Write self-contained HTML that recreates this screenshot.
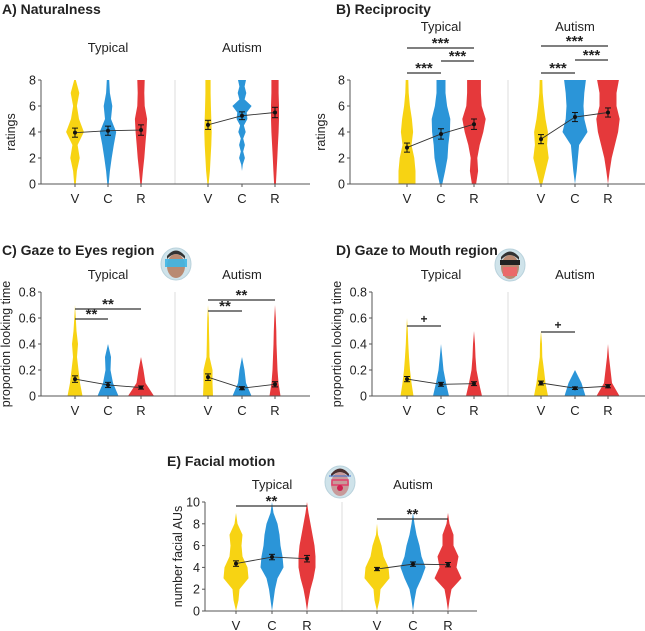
<!DOCTYPE html>
<html><head><meta charset="utf-8"><style>
html,body{margin:0;padding:0;background:#fff;}
svg{display:block;font-family:"Liberation Sans",Arial,sans-serif;}
</style></head><body>
<svg id="fig" width="645" height="631" viewBox="0 0 645 631" xmlns="http://www.w3.org/2000/svg"></svg>
<script>
// ---------- DATA ----------
const conditions = ["V","C","R"];
const groups = ["Typical","Autism"];
// density profiles (relative widths) evenly spanning each axis range
const densA_T = [[0.05,0.2,0.6,0.3,1.2,0.5,0.2,0.55,0.05],[0.03,0.2,0.45,0.75,1.1,0.35,0.55,0.2,0.1],[0.03,0.2,0.4,0.55,0.7,0.8,0.45,0.4,0.45]];
const densA_A = [[0.02,0.2,0.3,0.4,0.45,0.4,0.35,0.3,0.3],[0,0,0,0.05,0.35,0.1,0.35,0.1,0.45,0.2,0.7,0.6,1.3,0.3,0.55,0.3,0.5],[0.05,0.15,0.25,0.35,0.45,0.5,0.5,0.45,0.45]];
const densB_T = [[1.0,1.0,0.85,0.5,0.7,0.55,0.3,0.15,0.1],[0.1,0.45,0.75,0.85,1.05,1.1,0.7,0.5,0.5],[0.2,0.45,0.35,0.65,1.1,1.4,0.9,0.8,0.8]];
const densB_A = [[0.1,0.5,0.9,0.7,0.8,0.5,0.3,0.15,0.1],[0,0.15,0.3,0.45,1.5,1.1,1.0,1.1,1.3],[0,0.15,0.4,0.8,1.2,1.4,1.0,1.0,1.3]];
const densC_T = [[1.4,0.9,0.6,0.3,0.5,0.2,0.05,0,0],[2.0,0.9,0.4,0.5,0,0,0,0,0],[2.5,0.8,0.4,0,0,0,0,0,0]];
const densC_A = [[0.9,0.8,0.8,0.2,0.15,0.1,0.05,0,0],[1.8,0.7,0.4,0,0,0,0,0,0],[1.0,0.6,0.4,0.3,0.2,0.15,0.05,0,0]];
const densD_T = [[1.2,0.8,0.5,0.3,0.15,0.05,0,0,0],[1.5,0.9,0.4,0.15,0,0,0,0,0],[1.5,0.9,0.4,0.2,0.1,0,0,0,0]];
const densD_A = [[1.3,0.8,0.5,0.15,0.1,0,0,0,0],[2.0,1.2,0,0,0,0,0,0,0],[2.2,0.7,0.4,0.1,0,0,0,0,0]];
const densE_T = [[0,0.2,0.3,1.2,1.1,0.6,0.5,0.6,0.1,0,0],[0,0.1,0.25,0.5,1.1,1.0,0.8,0.7,0.5,0.1,0],[0,0.1,0.3,0.6,0.8,0.8,0.7,0.5,0.3,0.1,0]];
const densE_A = [[0,0.2,0.3,1.2,1.1,0.6,0.4,0.05,0,0,0],[0,0.1,0.3,0.8,1.2,0.8,0.6,0.3,0.1,0,0],[0,0.1,0.3,1.3,0.8,1.0,0.5,0.5,0.1,0,0]];
const meansA = [[3.95,4.1,4.15],[4.55,5.25,5.5]];
const meansB = [[2.8,3.85,4.6],[3.45,5.15,5.5]];
const meansC = [[0.13,0.085,0.065],[0.145,0.06,0.09]];
const meansD = [[0.13,0.09,0.095],[0.1,0.06,0.075]];
const meansE = [[4.35,4.95,4.8],[3.85,4.3,4.25]];
const semA = [[0.35,0.35,0.4],[0.35,0.3,0.4]];
const semB = [[0.35,0.4,0.4],[0.35,0.35,0.35]];
const semC = [[0.025,0.02,0.012],[0.025,0.012,0.02]];
const semD = [[0.02,0.015,0.015],[0.015,0.01,0.012]];
const semE = [[0.25,0.25,0.3],[0.15,0.2,0.2]];
const ticksRating = ["0","2","4","6","8"];
const ticksProp = ["0","0.2","0.4","0.6","0.8"];
const ticksAU = ["0","2","4","6","8","10"];

// ---------- DRAWING ----------
const NS="http://www.w3.org/2000/svg";
const svg=document.getElementById('fig');
const colors=["#f7d313","#2b95d8","#e5393b"];
function mk(tag,attrs,parent){const e=document.createElementNS(NS,tag);for(const k in attrs)e.setAttribute(k,attrs[k]);(parent||svg).appendChild(e);return e;}
function txt(x,y,s,size,anchor,weight,parent){const t=mk('text',{x:x,y:y,'font-size':size,'text-anchor':anchor||'middle','font-weight':weight||'normal',fill:'#222'},parent);t.textContent=s;return t;}

function panel(p){
  const g=mk('g',{});
  
  
  const yS=v=>p.y0-(v/p.max)*(p.y0-p.y1);
  const tt=txt(p.titleX,p.titleY,p.title,14,'start','bold',g);
  
  const dv=mk('line',{x1:p.div,y1:p.y1,x2:p.div,y2:p.y0,stroke:'#ddd','stroke-width':1},g);
  
  groups.forEach((gr,gi)=>{
    const xs=p.xs[gi];
    const gl=txt(xs[1],p.groupY,gr,13,'middle','normal',g);
    
    conditions.forEach((c,ci)=>{
      const d=p.dens[gi][ci];const n=d.length;
      let right=[],left=[];
      for(let k=0;k<n;k++){const v=p.max*k/(n-1);const w=d[k]*p.scale+(d[k]>0?0.5:0);right.push([xs[ci]+w,yS(v)]);left.push([xs[ci]-w,yS(v)]);}
      const pts=right.concat(left.reverse()).map(q=>q[0].toFixed(1)+','+q[1].toFixed(1)).join(' ');
      const vp=mk('polygon',{points:pts,fill:colors[ci],'stroke-linejoin':'round'},g);
      
      
      const xl=txt(xs[ci],p.y0+19,c,13,'middle','normal',g);
      
      mk('line',{x1:xs[ci],y1:p.y0,x2:xs[ci],y2:p.y0+3,stroke:'#555'},g);
    });
    const m=p.means[gi];
    const pl=mk('polyline',{points:m.map((v,ci)=>xs[ci]+','+yS(v)).join(' '),fill:'none',stroke:'#333','stroke-width':0.9},g);
    
    m.forEach((v,ci)=>{
      const s=p.sem[gi][ci];const x=xs[ci];
      mk('line',{x1:x,y1:yS(v-s),x2:x,y2:yS(v+s),stroke:'#111','stroke-width':1},g);
      mk('line',{x1:x-3,y1:yS(v-s),x2:x+3,y2:yS(v-s),stroke:'#111'},g);
      mk('line',{x1:x-3,y1:yS(v+s),x2:x+3,y2:yS(v+s),stroke:'#111'},g);
      const pt=mk('circle',{cx:x,cy:yS(v),r:2,fill:'#111'},g);
      
    });
  });
  const ax=mk('line',{x1:p.ax,y1:p.y1,x2:p.ax,y2:p.y0,stroke:'#555','stroke-width':1},g);
  
  const bx=mk('line',{x1:p.ax,y1:p.y0,x2:p.axEnd,y2:p.y0,stroke:'#555','stroke-width':1},g);
  
  p.ticks.forEach((t,i)=>{
    const v=parseFloat(t);const y=yS(v);
    mk('line',{x1:p.ax-3,y1:y,x2:p.ax,y2:y,stroke:'#555'},g);
    const tl=txt(p.ax-5,y+4.5,t,12.5,'end','normal',g);
    
  });
  const yl=txt(0,0,p.ylabel,12.5,'middle','normal',g);
  yl.setAttribute('transform',`translate(${p.ylx},${(p.y0+p.y1)/2}) rotate(-90)`);
  
  (p.brackets||[]).forEach(b=>{
    const xs=p.xs[b[0]];
    const x1=xs[b[1]],x2=xs[b[2]],y=b[3];
    const br=mk('path',{d:`M${x1},${y} L${x2},${y}`,fill:'none',stroke:'#333','stroke-width':1.3},g);
    
    const st=txt((x1+x2)/2,y-(b[4]==='+'?3:0),b[4],b[4]==='+'?12:15,'middle','bold',g);
    
  });
  if(p.face){face(p.face[0],p.face[1],p.face[2],g);}
}
function face(cx,cy,type,parent){
  const g=mk('g',{},parent);
  
  mk('ellipse',{cx:cx,cy:cy,rx:15,ry:16,fill:'#cfe3ea',stroke:'#b9d2dc'},g);
  mk('ellipse',{cx:cx,cy:cy+2,rx:9,ry:12,fill:type==='e'?'#c79a9a':'#b98a72'},g);
  mk('path',{d:`M${cx-9},${cy-5} Q${cx},${cy-15} ${cx+9},${cy-5} L${cx+9},${cy-8} Q${cx},${cy-19} ${cx-9},${cy-8}Z`,fill:type==='e'?'#4a3030':'#333'},g);
  if(type==='eyes') mk('rect',{x:cx-11,y:cy-5,width:22,height:8,fill:'#3fb6e6',opacity:0.9},g);
  if(type==='mouth'){mk('rect',{x:cx-10,y:cy-5,width:20,height:5,fill:'#222'},g);mk('rect',{x:cx-7,y:cy+2,width:14,height:9,fill:'#ea6a6a'},g);}
  if(type==='e'){mk('line',{x1:cx-11,y1:cy-6,x2:cx+11,y2:cy-6,stroke:'#3a6fd0'},g);mk('rect',{x:cx-8,y:cy-2,width:16,height:5,fill:'none',stroke:'#e0406a','stroke-width':1.5},g);mk('circle',{cx:cx,cy:cy+6,r:3,fill:'#d02050'},g);}
}

const xsTop1=[[75,108,141],[208,242,275]];
const xsTop2=[[407,441,474],[541,575,608]];
panel({name:'panel-a-naturalness',title:'A) Naturalness',titleX:2,titleY:14,ax:41,axEnd:310,y0:184,y1:80,max:8,ticks:ticksRating,ylabel:'ratings',ylx:15,div:175,groupY:52,xs:xsTop1,dens:[densA_T,densA_A],means:meansA,sem:semA,scale:7});
panel({name:'panel-b-reciprocity',title:'B) Reciprocity',titleX:336,titleY:14,ax:350,axEnd:645,y0:184,y1:80,max:8,ticks:ticksRating,ylabel:'ratings',ylx:325,div:508,groupY:31,xs:xsTop2,dens:[densB_T,densB_A],means:meansB,sem:semB,scale:8,
  brackets:[[0,0,1,73,'***'],[0,1,2,61,'***'],[0,0,2,48,'***'],[1,0,1,73,'***'],[1,1,2,60,'***'],[1,0,2,46,'***']]});
panel({name:'panel-c-gaze-eyes',title:'C) Gaze to Eyes region',titleX:2,titleY:255,ax:41,axEnd:310,y0:396,y1:292,max:0.8,ticks:ticksProp,ylabel:'proportion looking time',ylx:10,div:175,groupY:279,xs:xsTop1,dens:[densC_T,densC_A],means:meansC,sem:semC,scale:5,
  brackets:[[0,0,1,319,'**'],[0,0,2,309,'**'],[1,0,1,311,'**'],[1,0,2,300,'**']],face:[176,264,'eyes']});
panel({name:'panel-d-gaze-mouth',title:'D) Gaze to Mouth region',titleX:336,titleY:255,ax:372,axEnd:645,y0:396,y1:292,max:0.8,ticks:ticksProp,ylabel:'proportion looking time',ylx:341,div:508,groupY:279,xs:xsTop2,dens:[densD_T,densD_A],means:meansD,sem:semD,scale:5,
  brackets:[[0,0,1,326,'+'],[1,0,1,332,'+']],face:[510,265,'mouth']});
panel({name:'panel-e-facial-motion',title:'E) Facial motion',titleX:167,titleY:466,ax:205,axEnd:477,y0:611,y1:502,max:10,ticks:ticksAU,ylabel:'number facial AUs',ylx:182,div:342,groupY:489,xs:[[236,272,307],[377,413,448]],dens:[densE_T,densE_A],means:meansE,sem:semE,scale:10,
  brackets:[[0,0,2,506,'**'],[1,0,2,519,'**']],face:[340,482,'e']});
</script>
</body></html>
